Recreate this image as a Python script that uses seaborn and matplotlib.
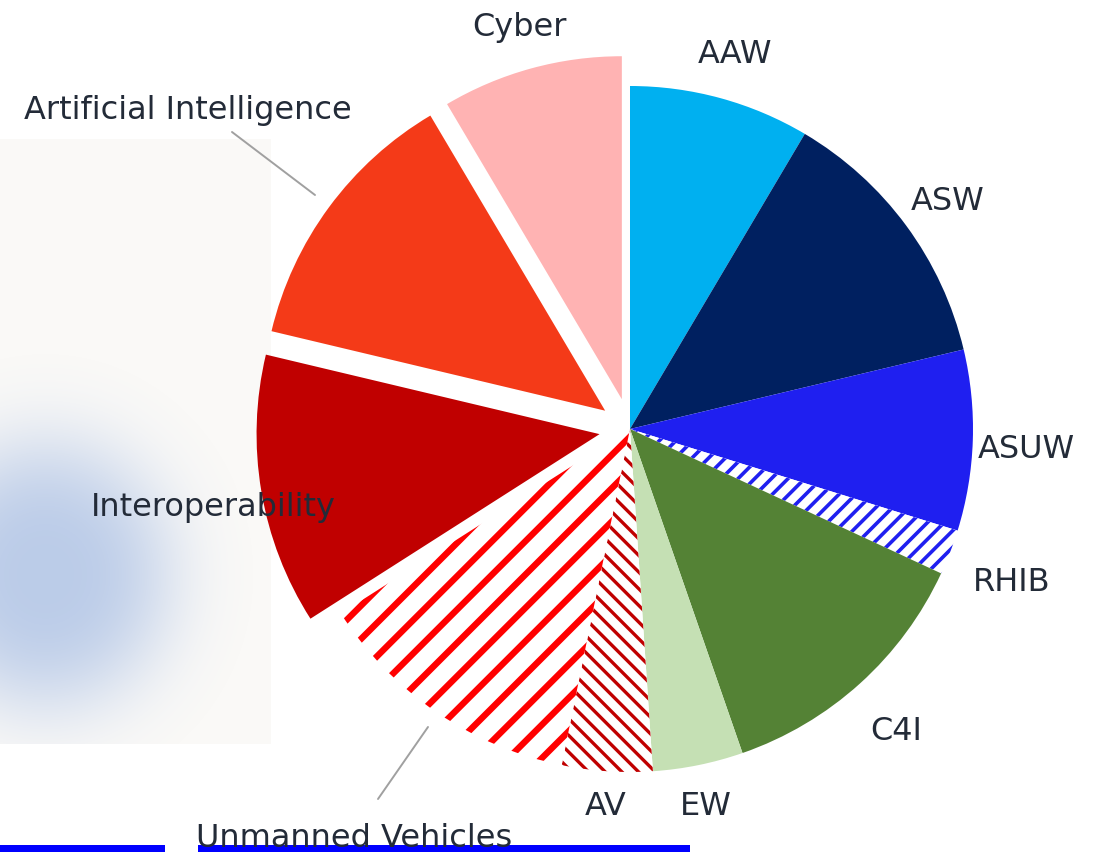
import numpy as np
import matplotlib
matplotlib.use("Agg")
import matplotlib.pyplot as plt
import seaborn as sns
from matplotlib.patches import Rectangle

# 數據
labels = ['AAW', 'ASW', 'ASUW', 'RHIB', 'C4I', 'EW', 'AV',
          'Unmanned Vehicles', 'Interoperability', 'Artificial Intelligence', 'Cyber']
values = [2, 3, 2, 0.5, 3, 1, 1, 3, 3, 3, 2]
face_colors = ['#00B0F0', '#002060', '#1F1FF0', '#FFFFFF', '#548235', '#C5E0B4',
               '#FFFFFF', '#FFFFFF', '#C00000', '#F43A18', '#FFB3B3']
hatches = [None, None, None, '//', None, None, '\\\\', '/', None, None, None]
hatch_colors = [None, None, None, '#1F1FF0', None, None, '#C00000', '#FF0000', None, None, None]
hatch_widths = [0, 0, 0, 2.6, 0, 0, 2.4, 4.6, 0, 0, 0]
explode = [0, 0, 0, 0, 0, 0, 0, 0, 0.09, 0.09, 0.09]

# 標籤位置 (像素, 基線)
label_pos = {
    'Cyber': (519, 36), 'AAW': (735, 63), 'ASW': (948, 210), 'ASUW': (1026, 458),
    'RHIB': (1012, 591), 'C4I': (896, 740), 'EW': (706, 815), 'AV': (606, 815),
    'Unmanned Vehicles': (354, 847), 'Interoperability': (213, 516),
    'Artificial Intelligence': (188, 119),
}

sns.set_theme(style='white')
plt.rcParams['font.family'] = ['DejaVu Sans']

W, H = 1102, 853
cx, cy, R = 630, 430, 343
fig = plt.figure(figsize=(W / 100, H / 100), dpi=100)
fig.patch.set_facecolor('white')

# 背景層 (像素座標)
ax_bg = fig.add_axes([0, 0, 1, 1], zorder=0)
ax_bg.set_xlim(0, W)
ax_bg.set_ylim(H, 0)
ax_bg.axis('off')
ax_bg.add_patch(Rectangle((0, 140), 271, 605, facecolor='#FAF9F7', edgecolor='none', zorder=1))

# 藍色模糊區塊 (整個淺色矩形範圍, 邊緣透明)
xs = np.arange(0, 271)
ys = np.arange(140, 745)
gx, gy = np.meshgrid(xs, ys)
r2 = ((gx - 45) / 165.0) ** 2 + ((gy - 575) / 175.0) ** 2
blob = np.exp(-(r2 ** 1.6) * 2.2)
blob[blob < 0.01] = 0
rgba = np.zeros(gx.shape + (4,))
rgba[..., 0] = 176 / 255
rgba[..., 1] = 196 / 255
rgba[..., 2] = 230 / 255
rgba[..., 3] = np.clip(blob * 0.85, 0, 1)
ax_bg.imshow(rgba, extent=[0, 271, 745, 140], aspect='auto',
             interpolation='bilinear', zorder=2)

# 底部藍線
ax_bg.add_patch(Rectangle((0, 846), 165, 7, facecolor='#0000FF', edgecolor='none', zorder=3))
ax_bg.add_patch(Rectangle((198, 846), 492, 7, facecolor='#0000FF', edgecolor='none', zorder=3))
ax_bg.set_xlim(0, W)
ax_bg.set_ylim(H, 0)

# 圓餅圖層
ax = fig.add_axes([0, 0, 1, 1], zorder=1)
ax.patch.set_alpha(0)
ax.axis('off')

palette = sns.color_palette(face_colors)
wedges, _ = ax.pie(values, colors=palette, startangle=90, counterclock=False,
                   explode=explode, radius=1, center=(0, 0),
                   wedgeprops=dict(linewidth=0))
for w, h, hc, hw in zip(wedges, hatches, hatch_colors, hatch_widths):
    if h:
        w.set_edgecolor(hc)
        w.set_hatch(h)
        w.set_linewidth(0)
        if hasattr(w, 'set_hatch_linewidth'):
            w.set_hatch_linewidth(hw)
ax.set_xlim(-cx / R, (W - cx) / R)
ax.set_ylim(-(H - cy) / R, cy / R)

# 引線
ax.plot([232, 315], [133, 196], color='#A0A0A0', lw=1.4, transform=ax_bg.transData, zorder=5)
ax.plot([378, 428], [800, 728], color='#A0A0A0', lw=1.4, transform=ax_bg.transData, zorder=5)

# 標籤
for name in labels:
    x, y = label_pos[name]
    ax.text(x, y, name, transform=ax_bg.transData, ha='center', va='baseline',
            fontsize=23, color='#232B38', zorder=6, clip_on=False)

fig.savefig('out.png', dpi=100, facecolor='white')
